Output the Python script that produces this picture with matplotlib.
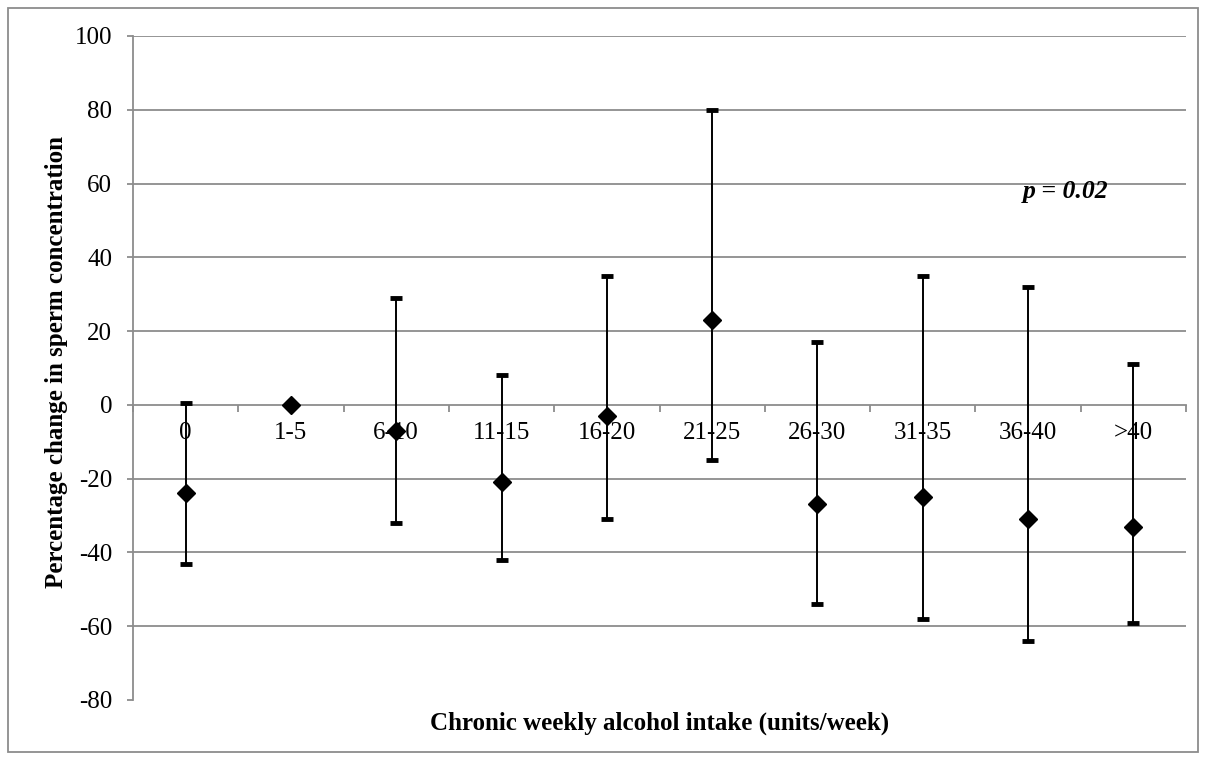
import numpy as np
import matplotlib
matplotlib.use("Agg")
import matplotlib.pyplot as plt
from matplotlib.patches import Rectangle

plt.rcParams.update({
    "font.family": "serif",
    "font.serif": ["Liberation Serif", "DejaVu Serif"],
    "font.size": 18,
    "axes.unicode_minus": False,
})

GRID = "#8c8c8c"

categories = ["0", "1-5", "6-10", "11-15", "16-20", "21-25", "26-30",
              "31-35", "36-40", ">40"]
means = [-24, 0, -7, -21, -3, 23, -27, -25, -31, -33]
lows = [-43, 0, -32, -42, -31, -15, -54, -58, -64, -59]
highs = [0.5, 0, 29, 8, 35, 80, 17, 35, 32, 11]

x = np.arange(len(categories))
m = np.array(means, float)
err = np.vstack([m - np.array(lows, float), np.array(highs, float) - m])

fig = plt.figure(figsize=(12.06, 7.6), dpi=100)
ax = fig.add_axes([133 / 1206, 1 - 700 / 760, (1186 - 133) / 1206, (700 - 36) / 760])

for v in range(-60, 101, 20):
    if v == 0:
        continue
    ax.axhline(v, color=GRID, lw=1.3, zorder=1)

ax.errorbar(x, m, yerr=err, fmt="none", ecolor="black", elinewidth=1.4,
            capsize=4, capthick=3.5, zorder=4)
ax.plot(x, m, ls="none", marker="D", ms=9.5, color="black", zorder=5)

ax.set_xlim(-0.5, len(categories) - 0.5)
ax.set_ylim(-80, 100)
ax.set_yticks(range(-80, 101, 20))

for s in ("top", "right"):
    ax.spines[s].set_visible(False)
ax.spines["left"].set_color(GRID)
ax.spines["left"].set_linewidth(1.3)
ax.spines["bottom"].set_position(("data", 0))
ax.spines["bottom"].set_color(GRID)
ax.spines["bottom"].set_linewidth(1.3)
ax.spines["bottom"].set_zorder(1)

ax.set_xticks(x)
ax.set_xticklabels(categories)
ax.set_xticks(np.arange(-0.5, len(categories)), minor=True)
ax.tick_params(axis="x", which="major", length=0, pad=12, labelsize=18)
ax.tick_params(axis="x", which="minor", length=5, width=1.3, color=GRID,
               direction="out")
ax.tick_params(axis="y", length=4.5, width=1.3, color=GRID, labelsize=18,
               pad=10.5)
for lab in ax.get_xticklabels():
    lab.set_zorder(2)

fig.text(57 / 1206, 1 - 362 / 760, "Percentage change in sperm concentration",
         rotation=90, ha="center", va="center", fontsize=18,
         fontweight="bold")
fig.text((133 + 1186) / 2 / 1206, 1 - 723 / 760,
         "Chronic weekly alcohol intake (units/week)", ha="center",
         va="center", fontsize=18, fontweight="bold")

ax.text(8.36, 57.8, "p = 0.02", ha="center", va="center", fontsize=18.5,
        fontweight="bold", style="italic", zorder=6)

fig.patches.append(Rectangle((8 / 1206, 8 / 760), 1190 / 1206, 744 / 760,
                             transform=fig.transFigure, fill=False,
                             edgecolor=GRID, lw=1.3))

fig.savefig("out.png", dpi=100)
